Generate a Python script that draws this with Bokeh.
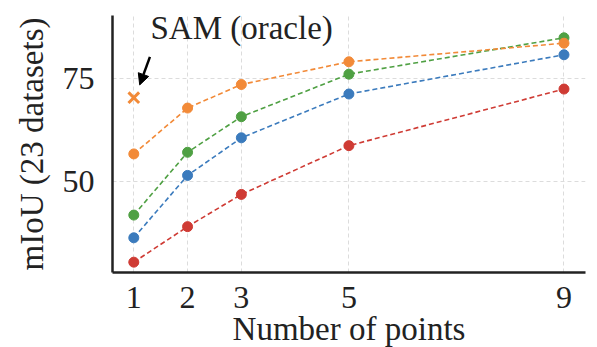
from bokeh.plotting import figure
from bokeh.models import FixedTicker, Label, Arrow, NormalHead, Range1d
from bokeh.embed import file_html
from bokeh.resources import INLINE

num_points = [1, 2, 3, 5, 9]
series_orange = [56.7, 67.8, 73.5, 79.0, 83.5]
series_green = [41.9, 57.1, 65.7, 76.0, 84.8]
series_blue = [36.4, 51.5, 60.6, 71.2, 80.7]
series_red = [30.5, 39.1, 46.9, 58.7, 72.4]
oracle_x = [1]
oracle_y = [70.3]
x_ticks = [1, 2, 3, 5, 9]
y_ticks = [50, 75]

colors = {
    "orange": "#f28a38",
    "green": "#4fa043",
    "blue": "#3b7bbd",
    "red": "#cf3b34",
}

FONT = "Liberation Serif"

p = figure(
    output_backend="svg",
    toolbar_location=None,
    width=597,
    height=347,
    frame_width=473,
    frame_height=257,
    min_border_left=112,
    min_border_right=12,
    min_border_top=15,
    min_border_bottom=75,
    x_range=Range1d(0.604, 9.40),
    y_range=Range1d(28.0, 90.2),
    background_fill_color="white",
    border_fill_color="white",
)
p.outline_line_color = None

# grid
p.xgrid.ticker = FixedTicker(ticks=x_ticks)
p.ygrid.ticker = FixedTicker(ticks=y_ticks)
for g in (p.xgrid, p.ygrid):
    g.grid_line_color = "#dcdcdc"
    g.grid_line_dash = "4 3"
    g.grid_line_width = 1

# axes
p.xaxis.ticker = FixedTicker(ticks=x_ticks)
p.yaxis.ticker = FixedTicker(ticks=y_ticks)
for ax in (p.xaxis, p.yaxis):
    ax.axis_line_color = "#222222"
    ax.axis_line_width = 2.5
    ax.major_tick_line_color = None
    ax.minor_tick_line_color = None
    ax.major_label_text_font = FONT
    ax.major_label_text_font_size = "32px"
    ax.major_label_text_color = "#222222"
    ax.axis_label_text_font = FONT
    ax.axis_label_text_font_style = "normal"
    ax.axis_label_text_color = "#222222"
p.xaxis.axis_label = "Number of points"
p.yaxis.axis_label = "mIoU (23 datasets)"
p.xaxis.axis_label_text_font_size = "33px"
p.yaxis.axis_label_text_font_size = "33px"
p.xaxis.major_label_standoff = 8
p.yaxis.major_label_standoff = 12
p.xaxis.axis_label_standoff = 0
p.yaxis.axis_label_standoff = 10

series = [
    ("red", series_red),
    ("blue", series_blue),
    ("green", series_green),
    ("orange", series_orange),
]
for name, vals in series:
    c = colors[name]
    p.line(num_points, vals, line_color=c, line_width=1.6, line_dash="5 3")
    p.scatter(num_points, vals, marker="circle", size=10, fill_color=c, line_color=c)

p.scatter(oracle_x, oracle_y, marker="x", size=15, line_color=colors["orange"], line_width=3)

p.add_layout(Label(x=1.31, y=82.7, text="SAM (oracle)", text_font=FONT,
                   text_font_size="33px", text_color="#222222"))
p.add_layout(Arrow(x_start=1.30, y_start=80.2, x_end=1.11, y_end=73.4,
                   line_color="black", line_width=2.5,
                   end=NormalHead(size=11, fill_color="black", line_color="black")))

open("out.html", "w").write(file_html(p, INLINE))
